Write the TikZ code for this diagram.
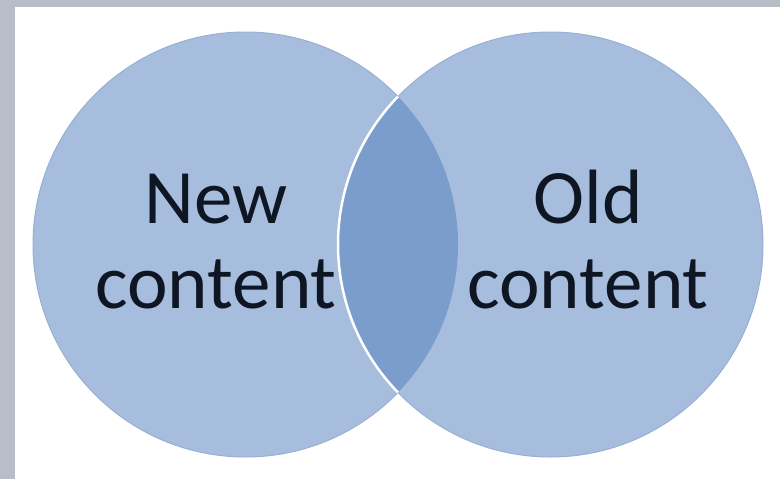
\documentclass[tikz,border=0pt]{standalone}
\usepackage{fontspec}
\setmainfont{Carlito}
\usetikzlibrary{positioning}

\definecolor{bggray}{HTML}{B7BEC8}
\definecolor{vennfill}{HTML}{A6BDDD}
\definecolor{vennedge}{HTML}{98B0D2}
\definecolor{lensfill}{HTML}{7A9DCB}
\definecolor{vtext}{HTML}{0F1623}

\begin{document}
\begin{tikzpicture}[x=1pt,y=-1pt,
    venn/.style={circle, minimum size=425pt, inner sep=0pt, fill=vennfill, draw=vennedge, line width=1pt},
    vlabel/.style={font=\fontsize{77}{85}\selectfont, text=vtext, inner sep=0pt, anchor=base}]
        % Background
        \fill[bggray] (0,0) rectangle (780,479);
        \fill[white] (15,7) rectangle (780,479);
        \useasboundingbox (0,0) rectangle (780,479);

        % Two circles
        \node[venn] (new) at (245.5,244.5) {};
        \node[venn] (old) at (550.5,244.5) {};

        % Overlap
        \begin{scope}
            \clip (new.center) circle[radius=212.5pt];
            \fill[lensfill] (old.center) circle[radius=212.5pt];
            \draw[white, line width=2.5pt] (old.center) circle[radius=212.5pt];
        \end{scope}

        % Labels
        \node[vlabel] (newa) at (216,223) {New};
        \node[vlabel] (newb) at (216,308) {content};
        \node[vlabel] (olda) at (588,223) {Old};
        \node[vlabel] (oldb) at (588,308) {content};
\end{tikzpicture}
\end{document}
